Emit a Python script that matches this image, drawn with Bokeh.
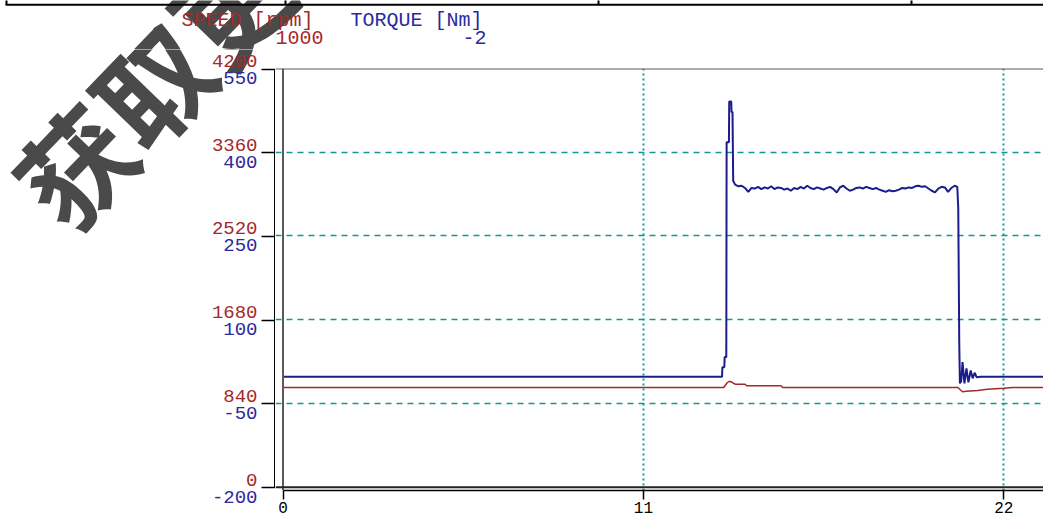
from bokeh.plotting import figure
from bokeh.layouts import column, row
from bokeh.models import Range1d, LinearAxis, FixedTicker, Span
from bokeh.core.properties import value
from bokeh.embed import file_html
from bokeh.resources import INLINE

# ---------------- data ----------------
time_torque = [0.0, 13.40, 13.41, 13.47, 13.48, 13.53, 13.54, 13.61, 13.62, 13.68, 13.69, 13.72, 13.74,
               13.8, 13.9, 14.0, 14.1, 14.2, 14.3, 14.4, 14.5, 14.6, 14.7, 14.8, 14.9,
               15.0, 15.1, 15.2, 15.3, 15.4, 15.5, 15.6, 15.7, 15.8, 15.9,
               16.0, 16.1, 16.2, 16.3, 16.4, 16.5, 16.6, 16.7, 16.8, 16.9,
               17.0, 17.1, 17.2, 17.3, 17.4, 17.5, 17.6, 17.7, 17.8, 17.9,
               18.0, 18.1, 18.2, 18.3, 18.4, 18.5, 18.6, 18.7, 18.8, 18.9,
               19.0, 19.1, 19.2, 19.3, 19.4, 19.5, 19.6, 19.7, 19.8, 19.9,
               20.0, 20.1, 20.2, 20.3, 20.4, 20.5,
               20.58, 20.61, 20.64, 20.66, 20.70, 20.74, 20.80, 20.86, 20.92, 20.99,
               21.05, 21.11, 21.17, 21.29, 23.3]
torque = [-2, -2, 15, 15, 33, 33, 418, 418, 491, 491, 472, 472, 349,
          342, 339, 340, 336, 329, 336, 335, 338, 334, 337, 335, 339,
          334, 337, 336, 333, 335, 331, 336, 334, 338, 335,
          340, 336, 334, 337, 335, 333, 336, 338, 334, 328,
          337, 340, 335, 331, 333, 336, 337, 335, 338, 336,
          334, 336, 333, 331, 329, 332, 330, 331, 333, 336,
          335, 337, 336, 339, 340, 338, 339, 335, 331, 328,
          335, 338, 337, 329, 336, 340,
          338, 300, 60, -14, -10, 24, -14, 13, -12, 9,
          -5, 5, -3, -2, -2]

time_speed = [0.0, 13.45, 13.55, 13.62, 13.72, 13.80, 14.10, 14.15, 15.20, 15.25,
              20.60, 20.68, 20.74, 20.86, 21.20, 21.50, 22.00, 22.27, 23.3]
speed = [1000, 1000, 1045, 1063, 1050, 1033, 1033, 1017, 1017, 1000,
         1000, 975, 958, 962, 970, 982, 992, 1000, 1000]

speed_ticks = [0, 840, 1680, 2520, 3360, 4200]
torque_ticks = [-200, -50, 100, 250, 400, 550]
x_ticks = [0, 11, 22]
speed_grid = [840, 1680, 2520, 3360]
time_grid = [11, 22]

speed_title = "SPEED [rpm]"
torque_title = "TORQUE [Nm]"
speed_readout = "1000"
torque_readout = "-2"
watermark = "获取更"

# ---------------- layout constants (pixels) ----------------
W, H = 1043, 516
SPLIT = 275                  # left label column | plot frame
TOP = 49                     # header strip height
FRAME_T, FRAME_B = 68, 490
X0_PX, X22_PX = 282.5, 1003.3
PX_PER_X = (X22_PX - X0_PX) / 22.0
Y0_PX, Y4200_PX = 486.7, 68.0
PX_PER_RPM = (Y0_PX - Y4200_PX) / 4200.0
PX_PER_NM = (Y0_PX - Y4200_PX) / 750.0
EPS = 0.5                    # keeps anchors that sit on a strip edge inside the strip


def dx(px):
    return (px - X0_PX) / PX_PER_X


def dy(py):
    return (Y0_PX - py) / PX_PER_RPM


def dt(py):
    return -200 + (Y0_PX - py) / PX_PER_NM


RED = "#a22a2a"
BLUE = "#2a2a9e"
TEAL = "#179494"
MONO = "Liberation Mono"
CJK = "Noto Sans CJK SC"
WM_COLOR = "#4a4a4a"
WM_C = (150, 82)             # watermark centre (pixels)


def blank(fig):
    fig.outline_line_color = None
    fig.xgrid.visible = False
    fig.ygrid.visible = False
    fig.background_fill_color = "white"
    fig.border_fill_color = "white"


def strip(width, height, x0, y0, x1, y1):
    f = figure(width=width, height=height, output_backend="svg", toolbar_location=None,
               x_range=Range1d(x0, x1), y_range=Range1d(y0, y1),
               min_border_left=0, min_border_right=0, min_border_top=0, min_border_bottom=0,
               x_axis_location=None, y_axis_location=None)
    blank(f)
    return f


# ---------------- header strip (full width) ----------------
top = strip(W, TOP, dx(0), dy(TOP + EPS), dx(W), dy(EPS))

# watermark, upper part (anchored inside the strip, shifted to its centre) - drawn beneath texts
top.text(x=[dx(WM_C[0])], y=[dy(40)], y_offset=WM_C[1] - 40, text=[watermark],
         angle=46, angle_units="deg", text_align="center", text_baseline="middle",
         text_font=value(CJK), text_font_style="bold", text_font_size="112px", text_color=WM_COLOR)

top.segment(x0=[dx(5)], y0=[dy(4.7)], x1=[dx(W)], y1=[dy(4.7)], line_color="black", line_width=2)
top.segment(x0=[dx(6), dx(285), dx(598), dx(911)], y0=[dy(0)] * 4,
            x1=[dx(6), dx(285), dx(598), dx(911)], y1=[dy(4.7)] * 4, line_color="black", line_width=2)

top.text(x=[dx(181), dx(350)], y=[dy(20), dy(20)], text=[speed_title, torque_title],
         text_align="left", text_baseline="middle", text_font=value(MONO), text_font_size="20px",
         text_color=[RED, BLUE])
top.text(x=[dx(323), dx(486)], y=[dy(37.5), dy(37.5)], text=[speed_readout, torque_readout],
         text_align="right", text_baseline="middle", text_font=value(MONO), text_font_size="20px",
         text_color=[RED, BLUE])

# ---------------- left column (tick labels + y axis) ----------------
left = strip(SPLIT, H - TOP, dx(0), dy(H - EPS), dx(SPLIT), dy(TOP - EPS))
left.extra_y_ranges = {"torque": Range1d(dt(H - EPS), dt(TOP - EPS))}

left.text(x=[dx(WM_C[0])], y=[dy(WM_C[1])], text=[watermark], angle=46, angle_units="deg",
          text_align="center", text_baseline="middle", text_font=value(CJK), text_font_style="bold",
          text_font_size="112px", text_color=WM_COLOR)

yax = LinearAxis(ticker=FixedTicker(ticks=speed_ticks), bounds=(0, 4200))
yax.axis_line_color = "black"
yax.axis_line_width = 3
yax.major_tick_out = 0
yax.major_tick_in = 14
yax.major_tick_line_color = "black"
yax.major_tick_line_width = 1.5
yax.minor_tick_line_color = None
yax.major_label_standoff = 0
yax.major_label_overrides = {v: "" for v in speed_ticks}
left.add_layout(yax, "right")

left.text(x=[dx(257)] * len(speed_ticks), y=speed_ticks, text=[str(v) for v in speed_ticks],
          text_align="right", text_baseline="middle", y_offset=-8,
          text_font=value(MONO), text_font_size="19px", text_color=RED)
left.text(x=[dx(257)] * len(torque_ticks), y=torque_ticks, y_range_name="torque",
          text=[str(v) for v in torque_ticks], text_align="right", text_baseline="middle", y_offset=9,
          text_font=value(MONO), text_font_size="19px", text_color=BLUE)

# ---------------- main plot ----------------
p = figure(width=W - SPLIT, height=H - TOP, output_backend="svg", toolbar_location=None,
           x_range=Range1d(dx(SPLIT), dx(W)), y_range=Range1d(dy(FRAME_B), dy(FRAME_T)),
           min_border_left=0, min_border_right=0, min_border_top=FRAME_T - TOP,
           min_border_bottom=H - FRAME_B, x_axis_location=None, y_axis_location=None)
p.extra_y_ranges = {"torque": Range1d(dt(FRAME_B), dt(FRAME_T))}
p.outline_line_color = None
p.background_fill_color = "white"
p.border_fill_color = "white"

p.ygrid.ticker = FixedTicker(ticks=speed_grid)
p.ygrid.grid_line_color = TEAL
p.ygrid.grid_line_dash = "6 5"
p.ygrid.grid_line_width = 1.5
p.xgrid.ticker = FixedTicker(ticks=time_grid)
p.xgrid.grid_line_color = "#1f9a9a"
p.xgrid.grid_line_dash = "2 3"
p.xgrid.grid_line_width = 2

xax = LinearAxis(ticker=FixedTicker(ticks=x_ticks), bounds=(0, dx(W)))
xax.axis_line_color = "black"
xax.axis_line_width = 1.5
xax.major_tick_out = 9
xax.major_tick_in = 0
xax.major_tick_line_color = "black"
xax.major_tick_line_width = 1.5
xax.minor_tick_line_color = None
xax.major_label_text_font = MONO
xax.major_label_text_font_size = "16px"
xax.major_label_text_color = "black"
xax.major_label_standoff = 2
p.add_layout(xax, "below")

p.add_layout(Span(location=0, dimension="height", line_color="#5a5a5a", line_width=2))
p.add_layout(Span(location=4200, dimension="width", line_color="#5a5a5a", line_width=2))
p.add_layout(Span(location=0, dimension="width", line_color="#222222", line_width=2))

p.line(time_speed, speed, line_color=RED, line_width=1.5)
p.line(time_torque, torque, y_range_name="torque", line_color="#1c1c8c", line_width=2)

layout = column(top, row(left, column(p)))
open("out.html", "w").write(file_html(layout, INLINE))
